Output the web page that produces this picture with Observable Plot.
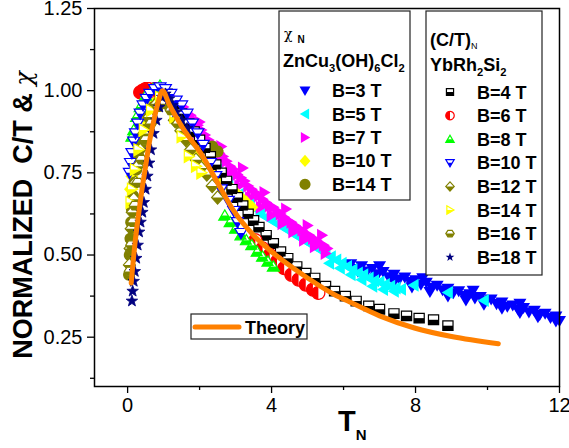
<!DOCTYPE html>
<html><head><meta charset="utf-8">
<script src="https://cdn.jsdelivr.net/npm/d3@7"></script>
<script src="https://cdn.jsdelivr.net/npm/@observablehq/plot@0.6"></script>
<style>body{margin:0;background:#fff;font-family:"Liberation Sans",Arial,sans-serif;}</style>
</head><body><div id="chart"></div>
<script>
// ---------- DATA ----------
// chi_N, ZnCu3(OH)6Cl2
const chiB3 = [[6.2,0.472],[6.35,0.458],[6.5,0.466],[6.65,0.450],[6.8,0.458],[6.95,0.442],[7.1,0.449],[7.25,0.433],[7.4,0.440],[7.55,0.426],[7.7,0.432],[7.85,0.418],[8.0,0.424],[8.15,0.410],[8.3,0.416],[8.45,0.401],[8.6,0.407],[8.75,0.393],[8.9,0.398],[9.05,0.384],[9.2,0.390],[9.35,0.376],[9.5,0.381],[9.65,0.368],[9.8,0.373],[9.95,0.360],[10.1,0.365],[10.25,0.351],[10.4,0.356],[10.55,0.343],[10.7,0.347],[10.85,0.334],[11.0,0.339],[11.15,0.326],[11.3,0.331],[11.45,0.318],[11.6,0.322],[11.75,0.309],[11.9,0.313],[12.0,0.300],[6.4,0.45],[6.9,0.432],[7.4,0.418],[7.9,0.402],[8.4,0.388],[8.9,0.374],[9.4,0.362],[9.9,0.349],[10.4,0.337],[10.9,0.324],[11.4,0.311],[11.9,0.298],[7.0,0.466],[8.2,0.43],[9.6,0.392],[10.9,0.352]];
const chiB5 = [[2.5,0.76],[2.65,0.74],[2.8,0.72],[2.95,0.70],[3.1,0.685],[3.25,0.67],[3.4,0.655],[3.55,0.64],[3.7,0.625],[3.85,0.615],[4.0,0.605],[4.15,0.595],[4.3,0.585],[4.45,0.575],[4.6,0.565],[4.75,0.555],[4.9,0.545],[5.05,0.535],[5.2,0.525],[5.35,0.515],[5.5,0.505],[5.65,0.495],[5.8,0.485],[5.95,0.475],[6.1,0.465],[6.25,0.455],[6.4,0.445],[6.55,0.44],[6.7,0.43],[6.85,0.422],[7.0,0.418],[7.15,0.41],[7.3,0.405],[7.45,0.40],[7.6,0.396],[5.6,0.475],[5.9,0.46],[6.2,0.44],[6.5,0.425],[6.8,0.405],[7.1,0.395],[7.4,0.39],[7.95,0.408],[8.9,0.386],[9.9,0.362]];
const chiB7 = [[1.05,0.99],[1.15,0.985],[1.25,0.975],[1.35,0.965],[1.45,0.955],[1.55,0.95],[1.65,0.935],[1.75,0.925],[1.85,0.91],[1.95,0.895],[2.05,0.88],[2.15,0.865],[2.25,0.85],[2.35,0.84],[2.45,0.825],[2.55,0.81],[2.65,0.80],[2.75,0.785],[2.85,0.77],[2.95,0.76],[3.05,0.745],[3.15,0.735],[3.25,0.725],[3.35,0.71],[3.45,0.70],[3.55,0.69],[3.65,0.68],[3.75,0.67],[3.85,0.66],[3.95,0.65],[4.05,0.645],[4.15,0.635],[4.25,0.625],[4.35,0.615],[4.45,0.605],[4.55,0.60],[4.65,0.59],[4.75,0.58],[4.85,0.575],[4.95,0.565],[5.05,0.56],[5.15,0.55],[5.25,0.545],[5.35,0.535],[5.45,0.53],[5.55,0.52],[1.6,0.915],[1.9,0.87],[2.2,0.825],[2.5,0.785],[2.8,0.745],[3.1,0.71],[3.4,0.675],[3.7,0.645],[4.0,0.62],[4.3,0.595],[4.6,0.57],[4.9,0.545],[5.2,0.525],[5.5,0.505],[2.0,0.905],[2.6,0.83],[3.2,0.765],[3.8,0.69],[4.4,0.64],[5.0,0.59],[5.4,0.56]];
const chiB10 = [[0.08,0.70],[0.12,0.74],[0.18,0.78],[0.25,0.82],[0.35,0.86],[0.5,0.91],[0.7,0.96],[0.9,0.99],[1.1,0.98],[1.3,0.94],[1.5,0.89],[1.65,0.86],[1.8,0.83],[1.95,0.805],[2.1,0.785],[2.25,0.765],[2.4,0.75],[2.55,0.735],[2.7,0.72],[2.85,0.705],[3.0,0.69],[3.15,0.675],[3.3,0.66],[3.45,0.645]];
const chiB14 = [[0.04,0.44],[0.06,0.5],[0.08,0.55],[0.1,0.6],[0.12,0.64],[0.15,0.68],[0.19,0.72],[0.24,0.76],[0.3,0.8],[0.38,0.84],[0.47,0.88],[0.58,0.92],[0.72,0.95],[0.88,0.97],[2.35,0.83],[2.5,0.815]];
// (C/T)_N, YbRh2Si2
const ctB4 = [[1.1,0.99],[1.3,0.96],[1.5,0.93],[1.7,0.9],[1.85,0.875],[2.0,0.85],[2.15,0.825],[2.3,0.8],[2.45,0.775],[2.6,0.75],[2.75,0.725],[2.9,0.70],[3.05,0.675],[3.2,0.65],[3.35,0.625],[3.5,0.605],[3.65,0.585],[3.85,0.56],[4.05,0.535],[4.25,0.51],[4.45,0.49],[4.7,0.465],[4.95,0.445],[5.2,0.43],[5.5,0.405],[5.75,0.39],[6.05,0.375],[6.35,0.36],[6.7,0.345],[7.0,0.335],[7.4,0.322],[7.75,0.315],[8.1,0.308],[8.5,0.303],[8.9,0.285]];
const ctB6 = [[0.35,0.995],[0.42,1.0],[0.5,1.005],[0.58,1.005],[0.66,1.0],[0.75,1.005],[3.55,0.545],[3.75,0.52],[3.95,0.5],[4.15,0.48],[4.35,0.46],[4.55,0.44],[4.75,0.425],[4.95,0.41],[5.15,0.395],[5.3,0.385]];
const ctB8 = [[0.12,0.86],[0.17,0.88],[0.25,0.92],[0.35,0.95],[0.5,0.985],[0.7,1.005],[0.9,1.015],[2.7,0.62],[2.85,0.6],[3.0,0.58],[3.15,0.56],[3.3,0.545],[3.45,0.53],[3.6,0.51],[3.75,0.495],[3.9,0.48],[4.05,0.465]];
const ctB10 = [[0.05,0.75],[0.08,0.78],[0.12,0.81],[0.17,0.845],[0.22,0.87],[0.28,0.9],[0.35,0.93],[0.43,0.955],[0.52,0.975],[0.62,0.99],[0.75,1.005],[0.9,1.01],[1.05,1.005],[1.2,0.99],[1.35,0.97],[1.5,0.955],[1.65,0.93],[1.8,0.9],[1.95,0.87],[2.1,0.835],[2.3,0.78],[2.45,0.74],[2.6,0.70],[2.8,0.665],[2.95,0.634],[3.05,0.6],[3.15,0.567]];
const ctB12 = [[0.05,0.47],[0.07,0.52],[0.1,0.58],[0.13,0.63],[0.17,0.67],[0.22,0.72],[0.28,0.77],[0.35,0.82],[0.45,0.87],[0.6,0.92],[0.8,0.96],[1.0,0.97],[1.15,0.95],[1.3,0.91],[1.48,0.878],[1.62,0.85],[1.75,0.82],[1.9,0.79],[2.05,0.765],[2.2,0.745],[2.35,0.71],[2.5,0.675]];
const ctB14 = [[0.08,0.66],[0.12,0.7],[0.2,0.76],[0.3,0.82],[0.45,0.88],[0.65,0.94],[0.9,0.98],[1.1,0.97],[1.3,0.92],[1.5,0.86],[1.7,0.8],[1.9,0.77],[2.05,0.75]];
const ctB16 = [[0.06,0.45],[0.1,0.53],[0.15,0.6],[0.2,0.65],[0.28,0.72],[0.38,0.79],[0.5,0.85],[0.65,0.9],[0.85,0.95],[1.0,0.96],[1.2,0.94],[1.4,0.9]];
const ctB18 = [[0.12,0.36],[0.14,0.39],[0.17,0.42],[0.2,0.45],[0.24,0.49],[0.28,0.53],[0.32,0.57],[0.36,0.6],[0.41,0.63],[0.45,0.66],[0.5,0.7],[0.55,0.74],[0.6,0.78],[0.65,0.82],[0.72,0.87],[0.8,0.91],[0.88,0.95],[0.96,0.98],[1.05,0.99],[1.15,0.975],[1.25,0.955],[1.35,0.935],[1.5,0.91],[1.65,0.885]];
const theory = [[0.1,0.415],[0.2,0.53],[0.3,0.62],[0.4,0.70],[0.5,0.77],[0.6,0.84],[0.7,0.895],[0.85,0.965],[0.97,1.0],[1.15,0.96],[1.35,0.92],[1.6,0.875],[1.8,0.845],[2.03,0.81],[2.5,0.72],[2.95,0.634],[3.5,0.56],[4.0,0.51],[4.35,0.48],[5.0,0.43],[5.74,0.38],[6.12,0.36],[7.0,0.315],[7.97,0.278],[9.0,0.252],[10.3,0.23]];
const chiLabels = ["B=3 T","B=5 T","B=7 T","B=10 T","B=14 T"];
const ctLabels = ["B=4 T","B=6 T","B=8 T","B=10 T","B=12 T","B=14 T","B=16 T","B=18 T"];
const xTicks = [0,4,8,12], xMinor = [2,6,10];
const yTicks = [0.25,0.5,0.75,1.0,1.25], yMinor = [0.125,0.375,0.625,0.875,1.125];

// ---------- SYMBOLS ----------
function clip(pts, side){
  const f = side==="bottom" ? p=>p[1] : p=>-p[0];
  const out=[];
  for(let i=0;i<pts.length;i++){
    const a=pts[i], b=pts[(i+1)%pts.length], fa=f(a), fb=f(b);
    if(fa>=0) out.push(a);
    if((fa>=0)!==(fb>=0)){const t=fa/(fa-fb); out.push([a[0]+t*(b[0]-a[0]), a[1]+t*(b[1]-a[1])]);}
  }
  return out;
}
function sym(pts){return {draw(ctx,size){const r=Math.sqrt(size/Math.PI);pts.forEach(([x,y],i)=>i?ctx.lineTo(x*r,y*r):ctx.moveTo(x*r,y*r));ctx.closePath();}};}
const S = {
  square:[[-0.85,-0.8],[0.85,-0.8],[0.85,0.8],[-0.85,0.8]],
  triDown:[[-1,-0.75],[1,-0.75],[0,0.95]],
  triUp:[[0,-0.95],[1,0.75],[-1,0.75]],
  triLeft:[[-0.95,0],[0.75,-1],[0.75,1]],
  triRight:[[0.95,0],[-0.75,-1],[-0.75,1]],
  diamond:[[0,-1.1],[1,0],[0,1.1],[-1,0]],
  hexagon:d3.range(6).map(i=>[Math.cos(i*Math.PI/3),0.9*Math.sin(i*Math.PI/3)]),
  circle:d3.range(28).map(i=>[Math.cos(i*Math.PI/14),Math.sin(i*Math.PI/14)]),
  star:d3.range(10).map(i=>{const a=-Math.PI/2+i*Math.PI/5, rr=i%2?0.45:1.1;return [rr*Math.cos(a),rr*Math.sin(a)];})
};

const chiSeries = [
  {data:chiB3, shape:"triDown", color:"#0000FF", r:6.5},
  {data:chiB5, shape:"triLeft", color:"#00FFFF", r:6.5},
  {data:chiB7, shape:"triRight", color:"#FF00FF", r:6.5},
  {data:chiB10, shape:"diamond", color:"#FFFF00", r:6.5},
  {data:chiB14, shape:"circle", color:"#808000", r:6}
];
const ctSeries = [
  {data:ctB4, shape:"square", color:"#000000", half:"bottom", r:6},
  {data:ctB6, shape:"circle", color:"#FF0000", half:"left", r:6.5},
  {data:ctB8, shape:"triUp", color:"#00FF00", half:"bottom", r:6},
  {data:ctB10, shape:"triDown", color:"#0000FF", half:"bottom", r:6},
  {data:ctB12, shape:"diamond", color:"#808000", half:"bottom", r:6},
  {data:ctB14, shape:"triRight", color:"#FFFF00", half:"bottom", r:6},
  {data:ctB16, shape:"hexagon", color:"#808000", half:"bottom", r:5.5},
  {data:ctB18, shape:"star", color:"#000080", half:null, r:5.5}
];

const marks = [];
for(const s of chiSeries){
  marks.push(Plot.dot(s.data,{x:d=>d[0],y:d=>d[1],symbol:sym(S[s.shape]),r:s.r,fill:s.color,stroke:"none"}));
}
for(const s of ctSeries){
  if(s.half){
    marks.push(Plot.dot(s.data,{x:d=>d[0],y:d=>d[1],symbol:sym(S[s.shape]),r:s.r,fill:"white",stroke:s.color,strokeWidth:1.2}));
    marks.push(Plot.dot(s.data,{x:d=>d[0],y:d=>d[1],symbol:sym(clip(S[s.shape],s.half)),r:s.r,fill:s.color,stroke:"none"}));
  } else {
    marks.push(Plot.dot(s.data,{x:d=>d[0],y:d=>d[1],symbol:sym(S[s.shape]),r:s.r,fill:s.color,stroke:s.color,strokeWidth:0.8}));
  }
}
marks.push(Plot.line(theory,{x:d=>d[0],y:d=>d[1],stroke:"#FF8000",strokeWidth:5,curve:"monotone-x",strokeLinecap:"round",strokeLinejoin:"round"}));
marks.push(Plot.axisX({ticks:xTicks,tickSize:7,tickPadding:4,tickFormat:d=>String(d),label:null,strokeWidth:1.3}));
marks.push(Plot.axisX({ticks:xMinor,tickSize:4,tickFormat:()=> "",label:null,strokeWidth:1.3}));
marks.push(Plot.axisY({ticks:yTicks,tickSize:7,tickPadding:5,tickFormat:d3.format(".2f"),label:null,strokeWidth:1.3}));
marks.push(Plot.axisY({ticks:yMinor,tickSize:4,tickFormat:()=> "",label:null,strokeWidth:1.3}));
marks.push(Plot.frame({stroke:"#000",strokeWidth:1.5}));

const chart = Plot.plot({
  width:569, height:448,
  marginLeft:94, marginRight:10, marginTop:8, marginBottom:62,
  x:{domain:[-0.92,12]}, y:{domain:[0.1,1.25]},
  style:{fontFamily:"'Liberation Sans', Arial, sans-serif", fontSize:"20px", color:"#000", background:"#fff"},
  marks
});
document.getElementById("chart").appendChild(chart);

// ---------- titles & legends ----------
const svg = d3.select(chart);
const g = svg.append("g").attr("font-family","'Liberation Sans', Arial, sans-serif").attr("fill","#000").attr("text-anchor","start");
// y title
const yt = g.append("text").attr("transform","translate(32,215) rotate(-90)").attr("text-anchor","middle").attr("xml:space","preserve");
yt.append("tspan").attr("font-weight","bold").attr("font-size",27).text("NORMALIZED  C/T & ");
yt.append("tspan").attr("font-family","'DejaVu Serif', serif").attr("font-style","italic").attr("font-size",24).text("χ");
// x title
const xt = g.append("text").attr("x",338).attr("y",431).attr("font-weight","bold");
xt.append("tspan").attr("font-size",29).text("T");
xt.append("tspan").attr("font-size",15).attr("dy",9).text("N");

function addText(parent, x, y, parts, size){
  const t = parent.append("text").attr("x",x).attr("y",y).attr("font-size",size).attr("font-weight","bold");
  let prevSub = false;
  for(const [s,sub] of parts){
    const ts = t.append("tspan").text(s);
    if(sub && !prevSub){ts.attr("font-size",size*0.62).attr("dy",5);}
    else if(!sub && prevSub){ts.attr("dy",-5);}
    prevSub = !!sub;
  }
  return t;
}
function marker(parent, cx, cy, shape, color, half, r){
  if(half){
    parent.append("path").attr("transform",`translate(${cx},${cy})`).attr("d",d3.symbol(sym(S[shape]),Math.PI*r*r)()).attr("fill","white").attr("stroke",color).attr("stroke-width",1.2);
    parent.append("path").attr("transform",`translate(${cx},${cy})`).attr("d",d3.symbol(sym(clip(S[shape],half)),Math.PI*r*r)()).attr("fill",color);
  } else {
    parent.append("path").attr("transform",`translate(${cx},${cy})`).attr("d",d3.symbol(sym(S[shape]),Math.PI*r*r)()).attr("fill",color);
  }
}
// legend 1
g.append("rect").attr("x",279).attr("y",11).attr("width",131).attr("height",189).attr("fill","white").attr("stroke","#222").attr("stroke-width",1.2);
const c1 = g.append("text").attr("x",284).attr("y",39);
c1.append("tspan").attr("font-family","'DejaVu Serif', serif").attr("font-size",14).text("χ");
c1.append("tspan").attr("font-size",10).attr("font-weight","bold").attr("dx",5).attr("dy",4).text("N");
addText(g,283,67,[["ZnCu"],["3",1],["(OH)"],["6",1],["Cl"],["2",1]],18);
chiLabels.forEach((lab,i)=>{
  const cy = 90.7 + i*23.4;
  marker(g,305,cy,chiSeries[i].shape,chiSeries[i].color,null,5.5);
  g.append("text").attr("x",332).attr("y",cy+6.5).attr("font-size",18).attr("font-weight","bold").text(lab);
});
// legend 2
g.append("rect").attr("x",426).attr("y",11).attr("width",116).attr("height",264).attr("fill","white").attr("stroke","#222").attr("stroke-width",1.2);
const c2 = g.append("text").attr("x",430).attr("y",46).attr("font-size",18).attr("font-weight","bold");
c2.append("tspan").text("(C/T)");
c2.append("tspan").attr("font-size",9).attr("font-weight","normal").attr("dy",3).text("N");
addText(g,430,71,[["YbRh"],["2",1],["Si"],["2",1]],18);
ctLabels.forEach((lab,i)=>{
  const cy = 92 + i*23.6;
  marker(g,450,cy,ctSeries[i].shape,ctSeries[i].color,ctSeries[i].half,4.2);
  g.append("text").attr("x",477).attr("y",cy+6.5).attr("font-size",18).attr("font-weight","bold").text(lab);
});
// theory legend
g.append("rect").attr("x",191).attr("y",314).attr("width",116).attr("height",25).attr("fill","white").attr("stroke","#222").attr("stroke-width",1.2);
g.append("line").attr("x1",195).attr("x2",239).attr("y1",327).attr("y2",327).attr("stroke","#FF8000").attr("stroke-width",5).attr("stroke-linecap","round");
g.append("text").attr("x",245).attr("y",333.5).attr("font-size",18).attr("font-weight","bold").text("Theory");
</script></body></html>
